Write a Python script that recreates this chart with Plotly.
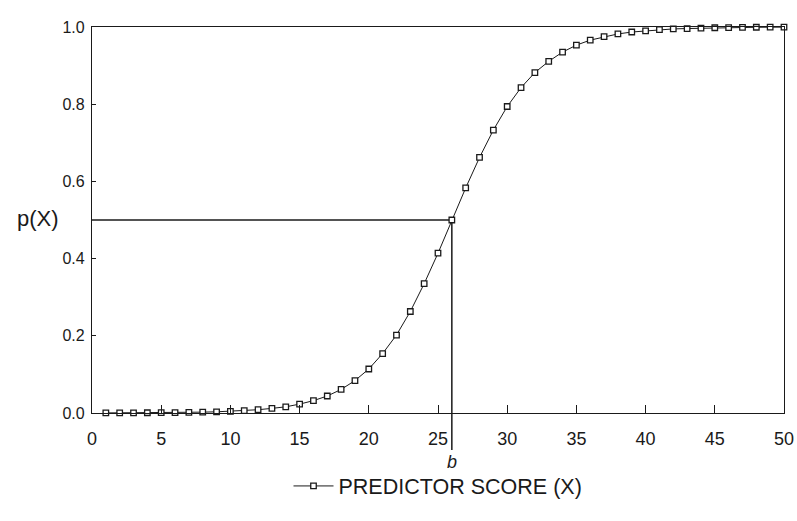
import plotly.graph_objects as go

predictor_score = list(range(1, 51))
p_x = [0.0002, 0.0003, 0.0004, 0.0006, 0.0008, 0.0011, 0.0016, 0.0022, 0.0031, 0.0043,
       0.006, 0.0085, 0.012, 0.016, 0.023, 0.032, 0.044, 0.061, 0.084, 0.114,
       0.154, 0.202, 0.263, 0.335, 0.414, 0.500, 0.583, 0.662, 0.733, 0.794,
       0.843, 0.882, 0.911, 0.935, 0.953, 0.966, 0.975, 0.982, 0.987, 0.990,
       0.993, 0.995, 0.996, 0.997, 0.998, 0.9985, 0.999, 0.9993, 0.9995, 0.9996]
b_value = 26
p_at_b = 0.5
x_ticks = [0, 5, 10, 15, 20, 25, 30, 35, 40, 45, 50]
y_ticks = [0.0, 0.2, 0.4, 0.6, 0.8, 1.0]

FONT = "Liberation Sans, Arial, Helvetica, sans-serif"
INK = "#1a1a1a"

fig = go.Figure()
fig.add_trace(go.Scatter(
    x=predictor_score, y=p_x, mode="lines+markers",
    name="PREDICTOR SCORE (X)",
    line=dict(color=INK, width=1),
    marker=dict(symbol="square", size=5.5, color="white", line=dict(color=INK, width=1.3)),
    cliponaxis=False,
))

# guide lines to b (y axis range is [0, 1] on the full domain, so paper y == data y)
fig.add_shape(type="line", xref="x", yref="y", x0=0, x1=b_value, y0=p_at_b, y1=p_at_b,
              line=dict(color=INK, width=1.5), layer="below")
fig.add_shape(type="line", xref="x", yref="paper", x0=b_value, x1=b_value, y0=p_at_b, y1=-0.096,
              line=dict(color=INK, width=1.5), layer="below")
fig.add_annotation(xref="x", yref="paper", x=b_value, y=-0.127, text="<i>b</i>", showarrow=False,
                   font=dict(family=FONT, size=18, color=INK), xanchor="center", yanchor="middle")
fig.add_annotation(xref="paper", yref="paper", x=-0.078, y=0.505, text="p(X)",
                   showarrow=False, font=dict(family=FONT, size=22, color=INK),
                   xanchor="center", yanchor="middle")

fig.update_layout(
    width=797, height=521,
    margin=dict(l=92, r=13, t=27, b=108, autoexpand=False),
    paper_bgcolor="white", plot_bgcolor="white",
    font=dict(family=FONT, color=INK),
    showlegend=True,
    legend=dict(orientation="h", x=0.5, xanchor="center", y=-0.189, yanchor="middle",
                font=dict(family=FONT, size=21.5, color=INK), itemwidth=40),
    xaxis=dict(range=[0, 50], tickvals=x_ticks, showgrid=False, zeroline=False,
               showline=True, linecolor=INK, linewidth=1.2, mirror=True,
               ticks="inside", ticklen=8, tickcolor=INK, tickwidth=1,
               ticklabelstandoff=9,
               tickfont=dict(family=FONT, size=18, color=INK)),
    yaxis=dict(range=[0, 1], tickvals=y_ticks, tickformat=".1f", showgrid=False, zeroline=False,
               showline=True, linecolor=INK, linewidth=1.2, mirror=True,
               ticks="inside", ticklen=4, tickcolor=INK, tickwidth=1,
               ticklabelstandoff=3,
               tickfont=dict(family=FONT, size=16, color=INK)),
)

fig.write_html(
    "out.html",
    config={"displayModeBar": False},
    post_script="document.body.style.margin='0';document.body.style.overflow='hidden';",
)
